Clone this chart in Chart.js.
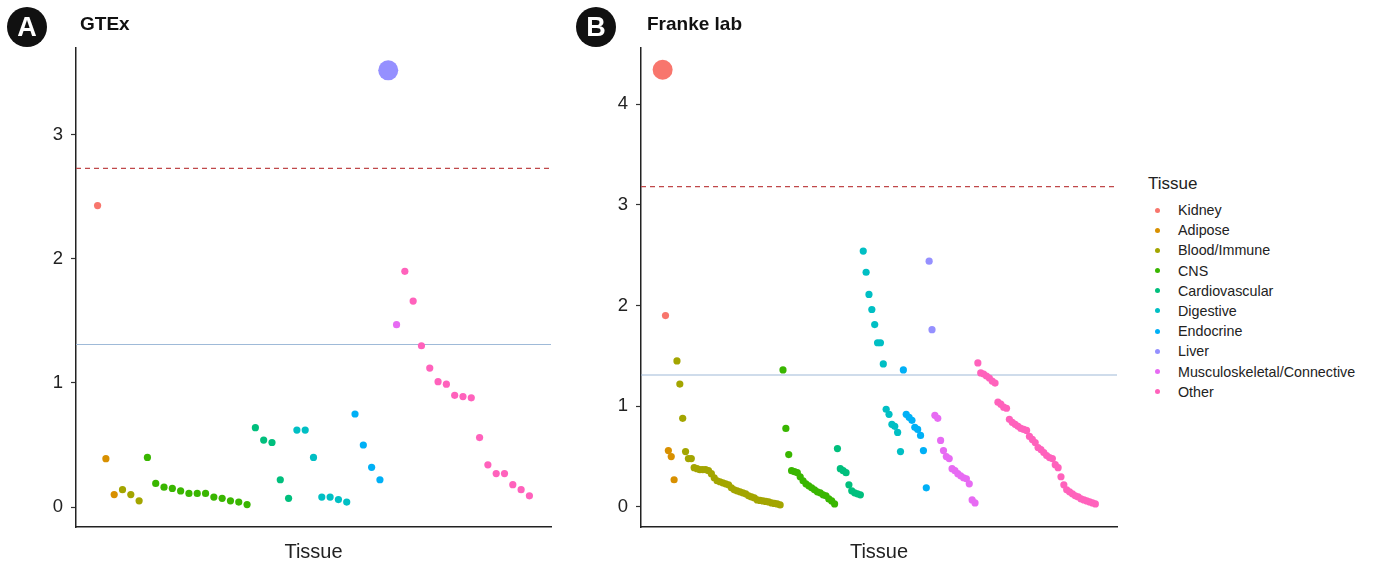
<!DOCTYPE html>
<html>
<head>
<meta charset="utf-8">
<script src="https://cdn.jsdelivr.net/npm/chart.js@4.4.1/dist/chart.umd.min.js"></script>
<style>
  body { margin: 0; background: #fff; font-family: "Liberation Sans", Arial, sans-serif; }
  #wrap { position: relative; width: 1373px; height: 564px; overflow: hidden; }
  canvas { position: absolute; top: 0; }
  .badge { position: absolute; top: 7px; width: 40px; height: 40px; border-radius: 50%;
           background: #111; color: #fff; font-weight: bold; font-size: 27px;
           line-height: 41px; text-align: center; }
  .title { position: absolute; top: 13px; font-weight: bold; font-size: 19px; color: #111; }
  #legend { position: absolute; left: 1148px; top: 174px; color: #222; }
  #legend .ltitle { font-size: 17px; margin-bottom: 6px; }
  #legend .row { height: 20.2px; line-height: 20.2px; font-size: 14.3px; position: relative; padding-left: 30px; }
  #legend .dot { position: absolute; left: 7px; top: 7.5px; width: 5px; height: 5px; border-radius: 50%; }
</style>
</head>
<body>
<div id="wrap">
  <canvas id="chartA" width="561" height="564" style="left:0px"></canvas>
  <canvas id="chartB" width="562" height="564" style="left:565px"></canvas>
  <div class="badge" style="left:7px">A</div>
  <div class="title" style="left:80px">GTEx</div>
  <div class="badge" style="left:576px">B</div>
  <div class="title" style="left:647px">Franke lab</div>
  <div id="legend"></div>
</div>
<script>
const categories = ['Kidney', 'Adipose', 'Blood/Immune', 'CNS', 'Cardiovascular',
                    'Digestive', 'Endocrine', 'Liver', 'Musculoskeletal/Connective', 'Other'];
const colors = ['#F8766D', '#D89000', '#A3A500', '#39B600', '#00BF7D',
                '#00BFC4', '#00B0F6', '#9590FF', '#E76BF3', '#FF62BC'];

// values per tissue category, in plotting order
const gtexValues = [
  [2.43],
  [0.39, 0.10],
  [0.14, 0.10, 0.05],
  [0.40, 0.19, 0.16, 0.15, 0.13, 0.11, 0.11, 0.11, 0.08, 0.07, 0.05, 0.04, 0.02],
  [0.64, 0.54, 0.52, 0.22, 0.07],
  [0.62, 0.62, 0.40, 0.08, 0.08, 0.06, 0.04],
  [0.75, 0.50, 0.32, 0.22],
  [3.52],
  [1.47],
  [1.90, 1.66, 1.30, 1.12, 1.01, 0.99, 0.90, 0.89, 0.88, 0.56, 0.34, 0.27, 0.27, 0.18, 0.14, 0.09]
];
const frankeValues = [
  [4.34, 1.90],
  [0.56, 0.50, 0.27],
  [1.45, 1.22, 0.88, 0.55, 0.48, 0.48, 0.39, 0.38, 0.37, 0.37, 0.37, 0.36, 0.33, 0.29, 0.26,
   0.25, 0.24, 0.23, 0.22, 0.19, 0.17, 0.16, 0.15, 0.14, 0.13, 0.11, 0.10, 0.09, 0.07, 0.065,
   0.06, 0.055, 0.05, 0.04, 0.035, 0.03, 0.02],
  [1.36, 0.78, 0.52, 0.36, 0.35, 0.34, 0.30, 0.26, 0.23, 0.21, 0.19, 0.17, 0.15, 0.14, 0.12,
   0.11, 0.08, 0.06, 0.03],
  [0.58, 0.38, 0.36, 0.34, 0.22, 0.16, 0.14, 0.13, 0.12],
  [2.54, 2.33, 2.11, 1.96, 1.81, 1.63, 1.63, 1.42, 0.97, 0.92, 0.82, 0.80, 0.74, 0.55],
  [1.36, 0.92, 0.89, 0.86, 0.79, 0.77, 0.71, 0.56, 0.19],
  [2.44, 1.76],
  [0.91, 0.88, 0.66, 0.56, 0.50, 0.48, 0.38, 0.36, 0.33, 0.31, 0.29, 0.28, 0.23, 0.07, 0.04],
  [1.43, 1.33, 1.32, 1.30, 1.28, 1.25, 1.23, 1.04, 1.02, 0.99, 0.98, 0.87, 0.84, 0.82, 0.80,
   0.78, 0.77, 0.76, 0.70, 0.67, 0.64, 0.59, 0.57, 0.54, 0.51, 0.49, 0.48, 0.42, 0.39, 0.30,
   0.22, 0.17, 0.15, 0.13, 0.11, 0.10, 0.08, 0.07, 0.06, 0.05, 0.04, 0.03]
];

const gtexTicks = [0, 1, 2, 3];
const frankeTicks = [0, 1, 2, 3, 4];
const gtexRange = [-0.161, 3.70];
const frankeRange = [-0.199, 4.556];
// bonferroni (dashed) and nominal (solid) thresholds
const gtexThresholds = { dashed: 2.73, solid: 1.31 };
const frankeThresholds = { dashed: 3.18, solid: 1.31 };

const FONT = '"Liberation Sans", Arial, sans-serif';

const refLines = {
    id: 'refLines',
    beforeDatasetsDraw(chart, args, opts) {
        const { ctx, chartArea, scales } = chart;
        ctx.save();
        ctx.lineWidth = 1.2;
        ctx.strokeStyle = '#9FBAD8';
        let y = scales.y.getPixelForValue(opts.solid);
        ctx.beginPath(); ctx.moveTo(chartArea.left, y); ctx.lineTo(chartArea.right, y); ctx.stroke();
        ctx.strokeStyle = '#C0484A';
        ctx.lineWidth = 1.3;
        ctx.setLineDash([5, 4]);
        y = scales.y.getPixelForValue(opts.dashed);
        ctx.beginPath(); ctx.moveTo(chartArea.left, y); ctx.lineTo(chartArea.right, y); ctx.stroke();
        ctx.restore();
    }
};

function makePanel(canvasId, values, range, ticks, thresholds) {
    let idx = 0;
    const datasets = values.map((vals, c) => ({
        label: categories[c],
        data: vals.map(v => ({ x: idx++, y: v })),
        backgroundColor: colors[c],
        borderWidth: 0,
        pointRadius: ctx => (ctx.raw && ctx.raw.y > thresholds.dashed) ? 10 : 3.6,
        pointHoverRadius: ctx => (ctx.raw && ctx.raw.y > thresholds.dashed) ? 10 : 3.6
    }));
    const n = idx - 1;

    return new Chart(document.getElementById(canvasId), {
        type: 'scatter',
        data: { datasets },
        plugins: [refLines],
        options: {
            responsive: false,
            animation: false,
            devicePixelRatio: 1,
            layout: { padding: { top: 48, right: 8, left: 1, bottom: 0 } },
            plugins: {
                legend: { display: false },
                tooltip: { enabled: false },
                refLines: thresholds
            },
            scales: {
                x: {
                    type: 'linear',
                    min: -0.05 * n,
                    max: 1.05 * n,
                    afterFit: s => { s.height = 37; },
                    ticks: { display: false },
                    grid: { display: false },
                    border: { color: '#222', width: 1.5 },
                    title: {
                        display: true, text: 'Tissue', color: '#222',
                        font: { family: FONT, size: 20 }, padding: { top: 0, bottom: 0 }
                    }
                },
                y: {
                    min: range[0],
                    max: range[1],
                    afterFit: s => { s.width = 75; },
                    afterBuildTicks: s => { s.ticks = ticks.map(v => ({ value: v })); },
                    ticks: { color: '#222', font: { family: FONT, size: 18.5 }, padding: 8 },
                    grid: { drawOnChartArea: false, drawTicks: true, tickLength: 5, tickColor: '#333', tickWidth: 1.2 },
                    border: { color: '#222', width: 1.5 }
                }
            }
        }
    });
}

makePanel('chartA', gtexValues, gtexRange, gtexTicks, gtexThresholds);
makePanel('chartB', frankeValues, frankeRange, frankeTicks, frankeThresholds);

// legend
const legend = document.getElementById('legend');
legend.innerHTML = '<div class="ltitle">Tissue</div>' + categories.map((c, i) =>
    `<div class="row"><span class="dot" style="background:${colors[i]}"></span>${c}</div>`).join('');
</script>
</body>
</html>
